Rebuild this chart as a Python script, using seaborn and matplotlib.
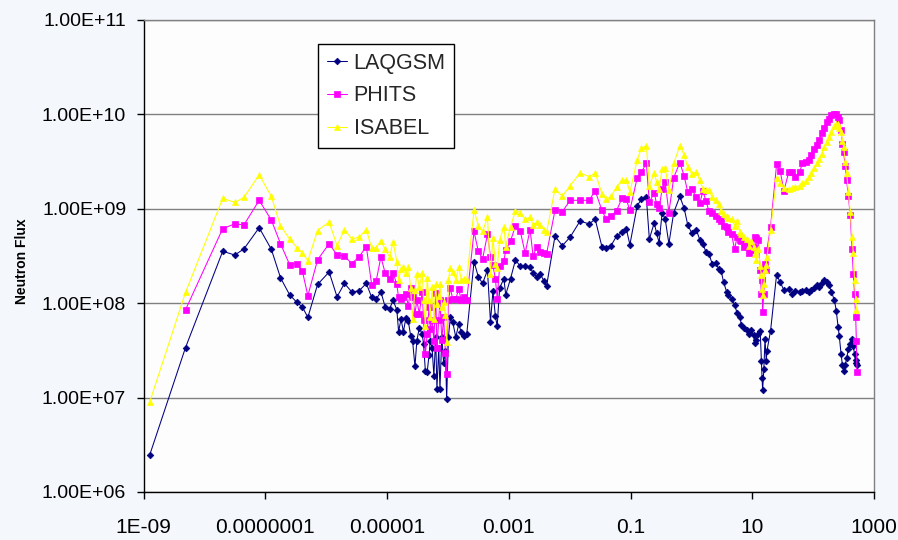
import numpy as np
import pandas as pd
import matplotlib
matplotlib.use("Agg")
import matplotlib.pyplot as plt
import seaborn as sns
from matplotlib.ticker import FixedLocator, FixedFormatter, NullLocator

# ---------------- data ----------------
energy = [
    1.26e-9, 4.90e-9, 2.00e-8, 3.16e-8, 4.47e-8, 7.94e-8, 1.26e-7, 1.78e-7, 2.51e-7, 3.31e-7,
    4.07e-7, 5.01e-7, 7.24e-7, 1.12e-6, 1.51e-6, 2.00e-6, 2.63e-6, 3.47e-6, 4.57e-6, 5.62e-6,
    6.61e-6, 7.94e-6, 9.33e-6, 1.10e-5, 1.26e-5, 1.45e-5, 1.55e-5, 1.70e-5, 1.86e-5, 2.04e-5,
    2.24e-5, 2.45e-5, 2.63e-5, 2.88e-5, 3.09e-5, 3.39e-5, 3.80e-5, 3.98e-5, 4.27e-5, 4.57e-5,
    4.90e-5, 5.13e-5, 5.50e-5, 5.89e-5, 6.31e-5, 6.61e-5, 7.08e-5, 7.41e-5, 7.94e-5, 8.51e-5,
    9.12e-5, 9.55e-5, 1.02e-4, 1.10e-4, 1.20e-4, 1.35e-4, 1.51e-4, 1.66e-4, 1.82e-4, 2.04e-4,
    2.69e-4, 3.16e-4, 3.72e-4, 4.47e-4, 5.01e-4, 5.50e-4, 6.03e-4, 6.46e-4, 7.08e-4, 8.32e-4,
    8.91e-4, 1.07e-3, 1.29e-3, 1.55e-3, 1.86e-3, 2.24e-3, 2.51e-3, 2.88e-3, 3.31e-3, 3.80e-3,
    4.17e-3, 5.75e-3, 7.59e-3, 1.02e-2, 1.48e-2, 2.09e-2, 2.63e-2, 3.39e-2, 3.98e-2, 4.79e-2,
    5.89e-2, 7.24e-2, 8.51e-2, 9.77e-2, 0.129, 0.151, 0.182, 0.204, 0.245, 0.269,
    0.295, 0.331, 0.372, 0.427, 0.513, 0.646, 0.759, 0.871, 1.02, 1.20,
    1.38, 1.55, 1.74, 1.95, 2.19, 2.51, 2.82, 3.09, 3.39, 3.80,
    4.07, 4.57, 5.13, 5.62, 6.31, 6.61, 7.24, 8.13, 8.91, 9.55,
    10.5, 11.0, 11.7, 12.6, 13.5, 14.1, 14.5, 14.8, 15.5, 16.2,
    17.0, 17.4, 20.0, 25.1, 28.8, 33.1, 39.8, 45.7, 51.3, 60.3,
    66.1, 75.9, 85.1, 93.3, 105, 115, 126, 138, 151, 170,
    182, 200, 224, 240, 257, 269, 288, 302, 316, 339,
    355, 380, 407, 437, 457, 479, 501, 513, 525,
]

laqgsm = [
    2.45e6, 3.39e7, 3.55e8, 3.24e8, 3.76e8, 6.31e8, 3.72e8, 1.86e8, 1.23e8, 1.02e8,
    9.12e7, 7.08e7, 1.58e8, 2.14e8, 1.17e8, 1.62e8, 1.32e8, 1.35e8, 1.62e8, 1.15e8,
    1.10e8, 1.32e8, 9.12e7, 8.71e7, 1.07e8, 8.51e7, 5.01e7, 6.76e7, 5.01e7, 6.92e7,
    6.46e7, 4.47e7, 3.98e7, 2.14e7, 3.98e7, 5.50e7, 4.68e7, 3.72e7, 1.91e7, 1.86e7,
    2.82e7, 3.98e7, 3.39e7, 1.70e7, 4.37e7, 1.23e7, 3.39e7, 1.23e7, 4.37e7, 2.34e7,
    3.09e7, 9.55e6, 4.37e7, 7.08e7, 6.31e7, 4.37e7, 6.03e7, 4.90e7, 4.47e7, 4.68e7,
    2.75e8, 1.91e8, 1.62e8, 2.24e8, 6.31e7, 1.35e8, 7.24e7, 5.75e7, 1.45e8, 1.82e8,
    1.23e8, 1.82e8, 2.88e8, 2.45e8, 2.45e8, 2.40e8, 2.09e8, 1.91e8, 2.04e8, 1.70e8,
    1.51e8, 5.13e8, 4.07e8, 5.01e8, 7.41e8, 6.92e8, 7.76e8, 3.98e8, 3.89e8, 4.07e8,
    5.13e8, 5.62e8, 6.17e8, 4.17e8, 1.08e9, 1.26e9, 1.32e9, 4.79e8, 7.08e8, 5.50e8,
    4.37e8, 9.12e8, 7.76e8, 4.27e8, 9.12e8, 1.35e9, 1.02e9, 6.76e8, 5.50e8, 6.03e8,
    4.68e8, 4.27e8, 3.47e8, 3.31e8, 2.63e8, 2.69e8, 2.29e8, 2.19e8, 1.66e8, 1.32e8,
    1.23e8, 1.12e8, 9.55e7, 7.94e7, 7.08e7, 5.89e7, 5.50e7, 5.25e7, 4.68e7, 5.25e7,
    4.57e7, 3.80e7, 4.07e7, 4.68e7, 5.13e7, 2.45e7, 1.62e7, 1.20e7, 2.00e7, 4.17e7,
    2.45e7, 3.09e7, 5.13e7, 2.00e8, 1.66e8, 1.38e8, 1.41e8, 1.26e8, 1.35e8, 1.32e8,
    1.35e8, 1.38e8, 1.32e8, 1.38e8, 1.45e8, 1.55e8, 1.48e8, 1.62e8, 1.74e8, 1.66e8,
    1.55e8, 1.32e8, 1.07e8, 8.32e7, 5.62e7, 4.47e7, 2.88e7, 2.24e7, 1.91e7, 2.24e7,
    2.63e7, 3.24e7, 3.72e7, 4.17e7, 3.55e7, 2.88e7, 2.34e7, 2.51e7, 2.24e7,
]

phits = [
    np.nan, 8.51e7, 6.17e8, 6.92e8, 6.76e8, 1.23e9, 7.59e8, 4.27e8, 2.57e8, 2.63e8,
    2.19e8, 1.20e8, 2.88e8, 4.27e8, 3.24e8, 3.16e8, 2.63e8, 3.09e8, 3.98e8, 1.55e8,
    1.70e8, 3.09e8, 2.09e8, 1.82e8, 2.09e8, 1.58e8, 1.15e8, 1.10e8, 1.17e8, 1.26e8,
    9.33e7, 1.45e8, 1.17e8, 7.76e7, 1.07e8, 7.76e7, 1.32e8, 6.61e7, 2.88e7, 4.68e7,
    9.12e7, 5.37e7, 6.61e7, 3.98e7, 1.29e8, 3.39e7, 6.61e7, 1.07e8, 4.07e7, 7.08e7,
    2.95e7, 1.78e7, 1.07e8, 1.45e8, 1.10e8, 1.12e8, 1.41e8, 1.07e8, 1.17e8, 1.07e8,
    5.75e8, 3.55e8, 2.95e8, 5.37e8, 3.09e8, 2.51e8, 1.82e8, 1.12e8, 2.45e8, 2.82e8,
    3.63e8, 4.57e8, 6.61e8, 5.75e8, 3.39e8, 6.03e8, 3.16e8, 3.98e8, 3.47e8, 3.39e8,
    3.31e8, 9.66e8, 9.33e8, 1.23e9, 1.23e9, 1.23e9, 1.55e9, 9.66e8, 7.76e8, 8.32e8,
    9.55e8, 1.29e9, 1.26e9, 9.66e8, 2.14e9, 2.45e9, 3.02e9, 1.17e9, 1.48e9, 1.12e9,
    1.02e9, 1.62e9, 1.91e9, 9.12e8, 2.14e9, 3.09e9, 2.24e9, 1.51e9, 1.62e9, 1.32e9,
    1.15e9, 1.55e9, 1.20e9, 9.44e8, 9.12e8, 8.32e8, 7.76e8, 7.41e8, 6.61e8, 6.46e8,
    5.62e8, 5.37e8, 3.72e8, 5.01e8, 4.68e8, 4.57e8, 3.98e8, 4.27e8, 3.39e8, 3.63e8,
    3.98e8, 5.01e8, 4.90e8, 4.68e8, 2.24e8, 1.26e8, 1.74e8, 8.13e7, 1.26e8, 2.63e8,
    2.24e8, 3.63e8, 6.46e8, 2.95e9, 2.51e9, 1.55e9, 2.45e9, 2.45e9, 2.19e9, 2.45e9,
    3.02e9, 3.16e9, 3.31e9, 3.72e9, 4.27e9, 4.79e9, 5.37e9, 6.31e9, 7.24e9, 8.32e9,
    9.02e9, 9.77e9, 1.02e10, 1.00e10, 9.33e9, 8.71e9, 6.76e9, 4.90e9, 3.98e9, 2.82e9,
    2.00e9, 1.35e9, 8.51e8, 3.72e8, 2.04e8, 1.26e8, 7.08e7, 3.98e7, 1.86e7,
]

isabel = [
    8.91e6, 1.30e8, 1.29e9, 1.17e9, 1.32e9, 2.29e9, 1.35e9, 6.61e8, 4.79e8, 3.89e8,
    3.39e8, 2.82e8, 5.89e8, 7.24e8, 4.07e8, 6.03e8, 4.79e8, 5.01e8, 6.03e8, 3.80e8,
    3.89e8, 4.57e8, 3.72e8, 3.09e8, 4.47e8, 2.75e8, 1.78e8, 2.29e8, 2.40e8, 2.09e8,
    2.40e8, 1.45e8, 6.76e7, 1.38e8, 2.04e8, 1.48e8, 2.09e8, 1.07e8, 5.75e7, 1.86e8,
    1.07e8, 7.08e7, 1.48e8, 6.76e7, 1.58e8, 9.77e7, 1.20e8, 1.58e8, 9.12e7, 1.02e8,
    7.41e7, 3.89e7, 1.78e8, 2.34e8, 2.14e8, 1.78e8, 2.40e8, 1.78e8, 1.82e8, 1.78e8,
    9.66e8, 6.61e8, 5.75e8, 8.13e8, 2.04e8, 4.90e8, 2.63e8, 2.34e8, 4.68e8, 6.46e8,
    3.98e8, 6.46e8, 9.55e8, 9.12e8, 7.76e8, 8.13e8, 6.76e8, 7.24e8, 6.76e8, 6.03e8,
    5.62e8, 1.62e9, 1.36e9, 1.76e9, 2.40e9, 2.19e9, 2.40e9, 1.45e9, 1.26e9, 1.35e9,
    1.70e9, 2.00e9, 2.04e9, 1.50e9, 3.31e9, 4.37e9, 4.68e9, 1.76e9, 2.40e9, 1.91e9,
    1.62e9, 2.63e9, 2.69e9, 1.57e9, 3.02e9, 4.68e9, 3.72e9, 2.75e9, 2.34e9, 2.45e9,
    2.00e9, 1.62e9, 1.58e9, 1.57e9, 1.33e9, 1.23e9, 1.12e9, 9.44e8, 8.91e8, 8.32e8,
    7.94e8, 7.76e8, 6.61e8, 7.41e8, 5.62e8, 5.37e8, 5.01e8, 4.79e8, 4.07e8, 4.57e8,
    3.98e8, 3.31e8, 2.88e8, 3.72e8, 2.45e8, 2.00e8, 1.41e8, 1.23e8, 1.58e8, 2.24e8,
    2.51e8, 3.09e8, 6.03e8, 2.14e9, 1.86e9, 1.66e9, 1.62e9, 1.66e9, 1.70e9, 1.76e9,
    1.86e9, 1.95e9, 2.19e9, 2.40e9, 2.69e9, 3.02e9, 3.39e9, 3.80e9, 4.47e9, 5.13e9,
    5.75e9, 6.46e9, 7.59e9, 7.94e9, 7.94e9, 7.24e9, 6.46e9, 5.25e9, 4.57e9, 3.16e9,
    2.40e9, 1.51e9, 9.33e8, 5.01e8, 3.39e8, 1.78e8, 1.10e8, 8.41e7, np.nan,
]

series_names = ["LAQGSM", "PHITS", "ISABEL"]
series_colors = ["#000080", "#FF00FF", "#FFFF00"]
series_markers = ["D", "s", "^"]
series_msize = [3.4, 4.0, 4.8]

x_ticks = [1e-9, 1e-7, 1e-5, 1e-3, 1e-1, 1e1, 1e3]
x_tick_labels = ["1E-09", "0.0000001", "0.00001", "0.001", "0.1", "10", "1000"]
y_ticks = [1e6, 1e7, 1e8, 1e9, 1e10, 1e11]
y_tick_labels = ["1.00E+06", "1.00E+07", "1.00E+08", "1.00E+09", "1.00E+10", "1.00E+11"]
y_label = "Neutron Flux"

# ---------------- styling ----------------
sns.set_theme(style="white")
plt.rcParams["font.family"] = ["Liberation Sans", "DejaVu Sans"]

W, H = 898, 540
ax_l, ax_r, ax_t, ax_b = 143.5, 874.0, 20.0, 492.0

fig = plt.figure(figsize=(W / 100, H / 100), dpi=100, facecolor="#f4f7fb")
ax = fig.add_axes([ax_l / W, 1 - ax_b / H, (ax_r - ax_l) / W, (ax_b - ax_t) / H])
ax.set_facecolor("#fdfdfe")
ax.set_xscale("log")
ax.set_yscale("log")

frames = []
for name, vals in zip(series_names, [laqgsm, phits, isabel]):
    frames.append(pd.DataFrame({"energy": energy, "flux": vals, "code": name}))
data = pd.concat(frames, ignore_index=True).dropna()

for name, col, mk, ms in zip(series_names, series_colors, series_markers, series_msize):
    sub = data[data["code"] == name]
    sns.lineplot(data=sub, x="energy", y="flux", ax=ax, color=col, marker=mk,
                 markersize=ms, markeredgecolor=col, markeredgewidth=0.5,
                 linewidth=0.75, estimator=None, sort=True, label=name, zorder=3)

ax.set_xlim(1e-9, 1e3)
ax.set_ylim(1e6, 1e11)
ax.xaxis.set_major_locator(FixedLocator(x_ticks))
ax.xaxis.set_major_formatter(FixedFormatter(x_tick_labels))
ax.yaxis.set_major_locator(FixedLocator(y_ticks))
ax.yaxis.set_major_formatter(FixedFormatter(y_tick_labels))
ax.xaxis.set_minor_locator(NullLocator())
ax.yaxis.set_minor_locator(NullLocator())

ax.set_axisbelow(True)
ax.yaxis.grid(True, color="#808080", linewidth=1.0)
ax.xaxis.grid(False)

for side in ["left", "bottom"]:
    ax.spines[side].set_color("black")
    ax.spines[side].set_linewidth(1.0)
for side in ["top", "right"]:
    ax.spines[side].set_color("#808080")
    ax.spines[side].set_linewidth(1.0)

ax.tick_params(axis="both", which="major", direction="out", length=5, width=1,
               color="black", bottom=True, left=True, top=False, right=False)
ax.tick_params(axis="y", labelsize=14, pad=7.5, labelcolor="black")
ax.tick_params(axis="x", labelsize=15, pad=13.5, labelcolor="black")

ax.set_xlabel("")
ax.set_ylabel(y_label, fontsize=10, fontweight="bold", color="black", va="center")
ax.yaxis.set_label_coords((21.7 - ax_l) / (ax_r - ax_l), 0.49)

handles, labels = ax.get_legend_handles_labels()
leg = ax.legend(handles, labels, loc="upper left",
                bbox_to_anchor=((318 - ax_l) / (ax_r - ax_l), (ax_b - 44) / (ax_b - ax_t)),
                borderaxespad=0, frameon=True, fancybox=False, edgecolor="black",
                facecolor="white", framealpha=1, fontsize=15.5, handlelength=0.95,
                handletextpad=0.3, borderpad=0.4, labelspacing=0.55)
leg.get_frame().set_linewidth(1.0)
leg.set_zorder(5)

fig.savefig("out.png", dpi=100, facecolor=fig.get_facecolor())
